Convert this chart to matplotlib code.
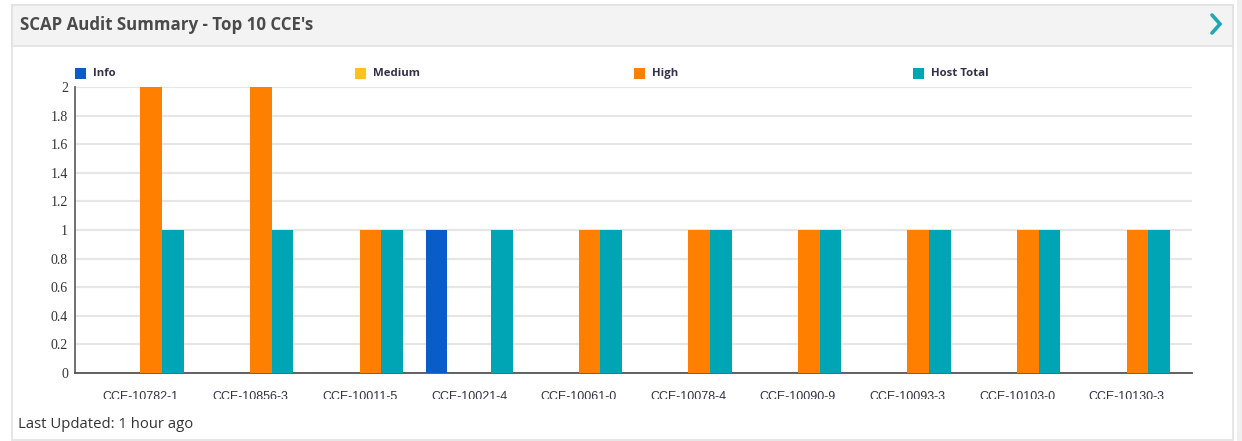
import matplotlib
matplotlib.use("Agg")
import matplotlib.pyplot as plt
import numpy as np
from matplotlib.patches import Rectangle
from matplotlib.lines import Line2D

categories = ["CCE-10782-1", "CCE-10856-3", "CCE-10011-5", "CCE-10021-4", "CCE-10061-0",
              "CCE-10078-4", "CCE-10090-9", "CCE-10093-3", "CCE-10103-0", "CCE-10130-3"]
series_names = ["Info", "Medium", "High", "Host Total"]
info = [0, 0, 0, 1, 0, 0, 0, 0, 0, 0]
medium = [0, 0, 0, 0, 0, 0, 0, 0, 0, 0]
high = [2, 2, 1, 0, 1, 1, 1, 1, 1, 1]
host_total = [1, 1, 1, 1, 1, 1, 1, 1, 1, 1]
series_values = [info, medium, high, host_total]
colors = ["#0a5cc8", "#ffc120", "#ff8000", "#00a5b5"]
yticks = [0, 0.2, 0.4, 0.6, 0.8, 1, 1.2, 1.4, 1.6, 1.8, 2]
ytick_labels = ["0", "0.2", "0.4", "0.6", "0.8", "1", "1.2", "1.4", "1.6", "1.8", "2"]

W, H = 1242, 441
fig = plt.figure(figsize=(W / 100, H / 100), dpi=100)
fig.patch.set_facecolor("white")

def fx(px):
    return px / W

def fy(py):
    return 1 - py / H

# panel
fig.patches.append(Rectangle((fx(12), fy(440)), fx(1233) - fx(12), fy(5) - fy(440),
                             transform=fig.transFigure, facecolor="white",
                             edgecolor="#e2e2e2", linewidth=1.2, zorder=-2))
fig.patches.append(Rectangle((fx(12), fy(46)), fx(1233) - fx(12), fy(5) - fy(46),
                             transform=fig.transFigure, facecolor="#f3f3f3",
                             edgecolor="#e2e2e2", linewidth=1.2, zorder=-2))
fig.patches.append(Rectangle((fx(1237), 0), fx(W) - fx(1237), 1,
                             transform=fig.transFigure, facecolor="#efefef",
                             edgecolor="none", zorder=-2))

fig.text(fx(20), fy(25), "SCAP Audit Summary - Top 10 CCE's", fontsize=12.2,
         fontweight="bold", family="Open Sans", color="#4a4a4a", va="center", ha="left")
fig.add_artist(Line2D([fx(1212), fx(1220), fx(1212)], [fy(15), fy(24), fy(33)],
                      transform=fig.transFigure, color="#1ea8b4", linewidth=2.6,
                      solid_capstyle="round", solid_joinstyle="miter"))
fig.text(fx(18), fy(424), "Last Updated: 1 hour ago", fontsize=10.7, family="Open Sans",
         color="#333333", va="center", ha="left")

# axes
ax = fig.add_axes([fx(75), fy(373), fx(1192) - fx(75), fy(87) - fy(373)])
ax.set_zorder(5)
ax.set_facecolor("white")
x = np.arange(len(categories))
w = 0.198
for i, (name, vals, c) in enumerate(zip(series_names, series_values, colors)):
    ax.bar(x + (i - 1.5) * w, vals, width=w, color=c, label=name, zorder=3,
           linewidth=0)
ax.set_xlim(-0.596, 9.596)
ax.set_ylim(0, 2)
ax.set_yticks(yticks)
ax.set_yticklabels(ytick_labels, family="Liberation Serif", fontsize=10, color="#333333")
ax.set_xticks(x)
ax.set_xticklabels(categories, family="Liberation Sans", fontsize=9, color="#333344")
ax.tick_params(axis="both", length=0)
ax.tick_params(axis="x", pad=13.2)
ax.tick_params(axis="y", pad=5)
ax.grid(axis="y", color="#e6e6e6", linewidth=1.6, zorder=0)
for s in ["top", "right"]:
    ax.spines[s].set_visible(False)
ax.spines["left"].set_color("#666666")
ax.spines["left"].set_linewidth(1.3)
ax.spines["bottom"].set_color("#555555")
ax.spines["bottom"].set_linewidth(1.3)

# the category labels are cut off at their lower part in the reference
mask = Rectangle((fx(80), fy(406)), fx(1200) - fx(80), fy(399) - fy(406),
                 transform=fig.transFigure, facecolor="white", edgecolor="none",
                 zorder=20)
fig.add_artist(mask)

# legend
leg_x = [75, 355, 634, 913]
for name, c, lx in zip(series_names, colors, leg_x):
    fig.patches.append(Rectangle((fx(lx), fy(79)), fx(11), fy(68) - fy(79),
                                 transform=fig.transFigure, facecolor=c,
                                 edgecolor="none"))
    fig.text(fx(lx + 18), fy(73.5), name, fontsize=8.2, fontweight="bold",
             family="Open Sans", color="#33304a", va="center", ha="left")

fig.savefig("out.png", dpi=100)
